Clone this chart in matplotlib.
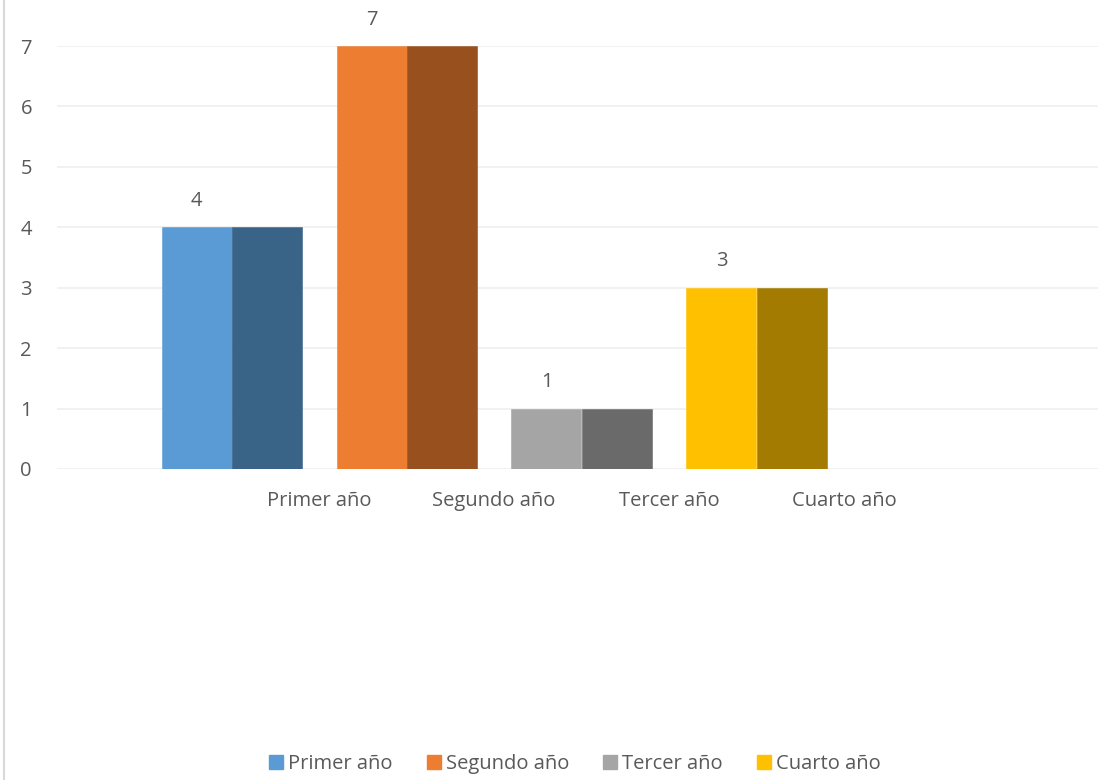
import numpy as np
import matplotlib.pyplot as plt

plt.rcParams['font.family'] = ['Open Sans', 'DejaVu Sans']

# --- datos ---
categories = ['Primer año', 'Segundo año', 'Tercer año', 'Cuarto año']
values = [4, 7, 1, 3]
light_colors = ['#5B9BD5', '#ED7D31', '#A5A5A5', '#FFC000']
dark_colors = ['#3A6388', '#98501F', '#6A6A6A', '#A37B00']

text_color = '#595959'
grid_color = '#EFEFEF'
fs = 14.5

fig = plt.figure(figsize=(10.98, 7.8), dpi=100)
ax = fig.add_axes([56.5 / 1098, 1 - 469 / 780, 1050 / 1098, (469 - 46) / 780])

n = len(categories)
idx = np.arange(n)
w = 0.4
# grupos de barras (claro + oscuro) entre las etiquetas de categoría
centers = idx + 0.5
ax.bar(centers - w / 2, values, width=w, color=light_colors,
       edgecolor=light_colors, linewidth=0.4, zorder=3)
ax.bar(centers + w / 2, values, width=w, color=dark_colors,
       edgecolor=dark_colors, linewidth=0.4, zorder=3)

for c, v in zip(centers, values):
    ax.annotate(str(v), (c - w / 2, v), xytext=(0, 19), textcoords='offset points',
                ha='center', va='center', fontsize=fs, color=text_color,
                annotation_clip=False)

ax.set_xlim(-0.5, 5.5)
ax.set_ylim(0, 7)
ax.set_yticks(range(0, 8))
ax.set_xticks(idx + 1)
ax.set_xticklabels(categories)
ax.tick_params(axis='both', length=0, labelsize=fs, labelcolor=text_color)
ax.tick_params(axis='x', pad=15.5)
ax.tick_params(axis='y', pad=26)
for lab in ax.get_yticklabels():
    lab.set_horizontalalignment('left')
ax.grid(axis='y', color=grid_color, linewidth=1.2, zorder=0)
for s in ax.spines.values():
    s.set_visible(False)

# leyenda
handles = [plt.Rectangle((0, 0), 1, 1, color=c) for c in light_colors]
fig.legend(handles, categories, loc='center', bbox_to_anchor=(575 / 1098, 1 - 764 / 780),
           ncol=4, frameon=False, fontsize=fs, labelcolor=text_color,
           handlelength=0.7, handleheight=0.7, handletextpad=0.25, columnspacing=1.7)

# borde izquierdo del área del gráfico
fig.add_artist(plt.Line2D([3.5 / 1098, 3.5 / 1098], [0, 1], color='#D9D9D9', linewidth=1.5))

fig.savefig('out.png', dpi=100, facecolor='white')
